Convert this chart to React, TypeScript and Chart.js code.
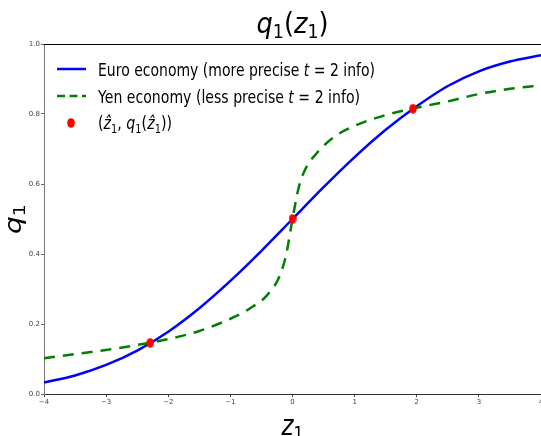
import { useEffect, useRef } from 'react';
import { Chart, registerables } from 'chart.js';
Chart.register(...registerables);

const euroZ = [-4, -3.5, -3, -2.5, -2, -1.5, -1, -0.5, 0, 0.5, 1, 1.5, 2, 2.5, 3, 3.5, 4];
const euroQ = [0.033, 0.053, 0.083, 0.124, 0.178, 0.245, 0.323, 0.409, 0.5, 0.591, 0.677, 0.755, 0.822, 0.88, 0.922, 0.95, 0.968];
const yenZ = [-4, -3.5, -3, -2.5, -2, -1.5, -1, -0.7, -0.4, -0.2, -0.1, 0, 0.1, 0.2, 0.4, 0.7, 1, 1.5, 2, 2.5, 3, 3.5, 4];
const yenQ = [0.102, 0.114, 0.126, 0.14, 0.157, 0.18, 0.215, 0.243, 0.284, 0.34, 0.4, 0.5, 0.59, 0.64, 0.69, 0.738, 0.766, 0.797, 0.818, 0.836, 0.857, 0.872, 0.882];
const markZ = [-2.29, 0, 1.94];
const markQ = [0.146, 0.5, 0.815];
const xTickValues = [-4, -3, -2, -1, 0, 1, 2, 3, 4];
const yTickValues = [0, 0.2, 0.4, 0.6, 0.8, 1.0];
const seriesLabels = ['Euro economy (more precise t = 2 info)', 'Yen economy (less precise t = 2 info)', '(ẑ₁, q₁(ẑ₁))'];

const FAM = '"DejaVu Sans"';
type Seg = { t: string; f: string; dy?: number };

function drawRich(ctx: CanvasRenderingContext2D, segs: Seg[], x: number, y: number, target: number | null, align: 'left' | 'center') {
  ctx.save();
  ctx.textBaseline = 'alphabetic';
  ctx.textAlign = 'left';
  let W = 0;
  const ws: number[] = [];
  for (const s of segs) {
    ctx.font = s.f;
    const w = ctx.measureText(s.t).width;
    ws.push(w);
    W += w;
  }
  const sx = target ? target / W : 1;
  const x0 = align === 'center' ? x - (W * sx) / 2 : x;
  ctx.translate(x0, y);
  ctx.scale(sx, 1);
  let cx = 0;
  segs.forEach((s, i) => {
    ctx.font = s.f;
    ctx.fillText(s.t, cx, s.dy || 0);
    cx += ws[i];
  });
  ctx.restore();
}

function makeDot(): HTMLCanvasElement {
  const c = document.createElement('canvas');
  c.width = 8;
  c.height = 10;
  const g = c.getContext('2d')!;
  g.fillStyle = '#ff0000';
  g.beginPath();
  g.ellipse(4, 5, 3.8, 4.8, 0, 0, Math.PI * 2);
  g.fill();
  return c;
}

export default function App() {
  const ref = useRef<HTMLCanvasElement | null>(null);
  useEffect(() => {
    const canvas = ref.current!;
    const dot = makeDot();
    const it = (n: number) => `italic ${n}px ${FAM}`;
    const rg = (n: number) => `${n}px ${FAM}`;

    const decor = {
      id: 'decor',
      afterDraw(chart: any) {
        const ctx: CanvasRenderingContext2D = chart.ctx;
        const ca = chart.chartArea;
        ctx.save();
        ctx.strokeStyle = '#000';
        ctx.lineWidth = 1;
        ctx.beginPath();
        ctx.moveTo(ca.left, ca.top + 0.5);
        ctx.lineTo(ca.right + 10, ca.top + 0.5);
        ctx.stroke();
        ctx.fillStyle = '#000';
        const T = 28, S = 19;
        drawRich(ctx, [
          { t: 'q', f: it(T) }, { t: '1', f: rg(S), dy: 5 }, { t: '(', f: rg(T) },
          { t: 'z', f: it(T) }, { t: '1', f: rg(S), dy: 5 }, { t: ')', f: rg(T) },
        ], (ca.left + ca.right) / 2, 33, 72, 'center');
        drawRich(ctx, [{ t: 'z', f: it(T) }, { t: '1', f: rg(S), dy: 5 }], (ca.left + ca.right) / 2, 435, 22, 'center');
        ctx.save();
        ctx.translate(21, (ca.top + ca.bottom) / 2);
        ctx.scale(0.82, 1);
        ctx.rotate(-Math.PI / 2);
        drawRich(ctx, [{ t: 'q', f: it(T) }, { t: '1', f: rg(S), dy: 5 }], 0, 0, null, 'center');
        ctx.restore();
        const ds = chart.data.datasets;
        const L = 18, LS = 12.5;
        ctx.lineWidth = 2.5;
        ctx.strokeStyle = ds[0].borderColor;
        ctx.beginPath();
        ctx.moveTo(57, 69);
        ctx.lineTo(86, 69);
        ctx.stroke();
        ctx.strokeStyle = ds[1].borderColor;
        ctx.setLineDash([8, 4.5]);
        ctx.beginPath();
        ctx.moveTo(57, 96);
        ctx.lineTo(86, 96);
        ctx.stroke();
        ctx.setLineDash([]);
        ctx.drawImage(dot, 71 - 4, 123 - 5);
        ctx.fillStyle = '#000';
        drawRich(ctx, [{ t: 'Euro economy (more precise ', f: rg(L) }, { t: 't', f: it(L) }, { t: ' = 2 info)', f: rg(L) }], 98, 75.5, 277, 'left');
        drawRich(ctx, [{ t: 'Yen economy (less precise ', f: rg(L) }, { t: 't', f: it(L) }, { t: ' = 2 info)', f: rg(L) }], 98, 102.5, 262, 'left');
        drawRich(ctx, [
          { t: '(', f: rg(L) }, { t: 'ẑ', f: it(L) }, { t: '1', f: rg(LS), dy: 4 }, { t: ', ', f: rg(L) },
          { t: 'q', f: it(L) }, { t: '1', f: rg(LS), dy: 4 }, { t: '(', f: rg(L) }, { t: 'ẑ', f: it(L) },
          { t: '1', f: rg(LS), dy: 4 }, { t: '))', f: rg(L) },
        ], 98, 129, 74, 'left');
        ctx.restore();
      },
    };

    const chart = new Chart(canvas, {
      type: 'line',
      data: {
        datasets: [
          {
            label: seriesLabels[0],
            data: euroZ.map((z, i) => ({ x: z, y: euroQ[i] })),
            borderColor: '#0000ff',
            borderWidth: 2.5,
            pointRadius: 0,
            cubicInterpolationMode: 'monotone',
            order: 2,
          },
          {
            label: seriesLabels[1],
            data: yenZ.map((z, i) => ({ x: z, y: yenQ[i] })),
            borderColor: '#008000',
            borderWidth: 2.5,
            borderDash: [11, 8],
            pointRadius: 0,
            cubicInterpolationMode: 'monotone',
            order: 1,
          },
          {
            label: seriesLabels[2],
            data: markZ.map((z, i) => ({ x: z, y: markQ[i] })),
            showLine: false,
            pointStyle: dot,
            pointRadius: 4,
            backgroundColor: '#ff0000',
            borderColor: '#ff0000',
            order: 0,
          },
        ] as any,
      },
      options: {
        animation: false,
        responsive: false,
        devicePixelRatio: 1,
        layout: { padding: { top: 44, right: 9, left: 0, bottom: 0 } },
        plugins: { legend: { display: false }, title: { display: false }, tooltip: { enabled: false } },
        scales: {
          x: {
            type: 'linear',
            min: -4,
            max: 4,
            afterFit: (s: any) => { s.height = 42; },
            afterBuildTicks: (s: any) => { s.ticks = xTickValues.map((v) => ({ value: v })); },
            ticks: {
              font: { size: 7, family: FAM },
              color: '#444',
              padding: 1,
              maxRotation: 0,
              autoSkip: false,
              callback: (v: any) => String(v).replace('-', '\u2212'),
            },
            grid: { display: true, drawOnChartArea: false, drawTicks: true, tickLength: 3, color: '#444' },
            border: { display: true, color: '#333', width: 1 },
          },
          y: {
            type: 'linear',
            min: 0,
            max: 1,
            afterFit: (s: any) => { s.width = 44; },
            afterBuildTicks: (s: any) => { s.ticks = yTickValues.map((v) => ({ value: v })); },
            ticks: {
              font: { size: 7, family: FAM },
              color: '#444',
              padding: 1,
              callback: (v: any) => Number(v).toFixed(1),
            },
            grid: { display: true, drawOnChartArea: false, drawTicks: true, tickLength: 3, color: '#666' },
            border: { display: true, color: '#777', width: 1 },
          },
        },
      } as any,
      plugins: [decor],
    });
    return () => chart.destroy();
  }, []);
  return (
    <div style={{ position: 'fixed', left: 0, top: 0, width: 550, height: 436, overflow: 'hidden', background: '#fff' }}>
      <canvas ref={ref} width={550} height={436} style={{ display: 'block', width: 550, height: 436 }} />
    </div>
  );
}
